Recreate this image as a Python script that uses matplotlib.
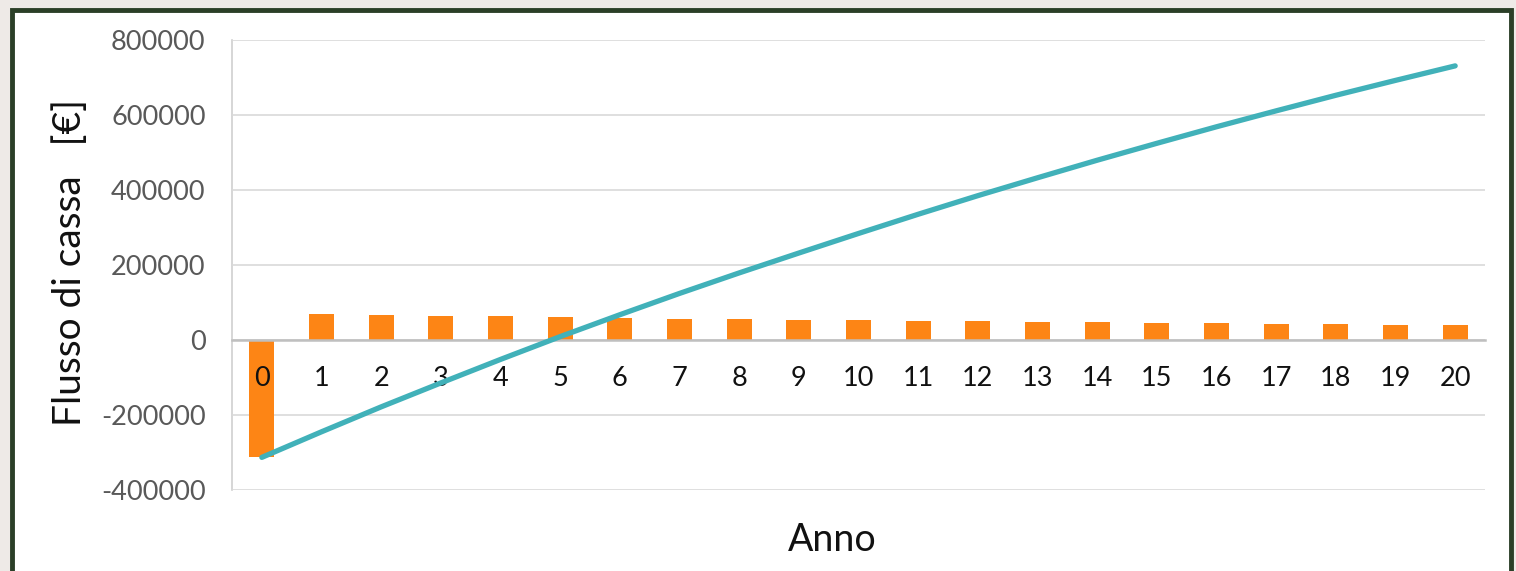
import matplotlib.pyplot as plt
from matplotlib.patches import Rectangle

plt.rcParams['font.family'] = ['Lato', 'DejaVu Sans']

# annual cash flow and cumulative cash flow
anni = list(range(21))
flusso = [-313000, 68500, 66700, 64000, 63000, 61000, 58700, 57000, 55000, 53300,
          52400, 51500, 49800, 48000, 47000, 45300, 44400, 42700, 41800, 40000, 39100]
cumulato = [-313000, -244800, -178300, -114500, -51800, 9000, 67400, 124200, 178900,
            231900, 284100, 335300, 384900, 432600, 479400, 524500, 568600, 611100,
            652600, 692300, 731000]
yticks = [-400000, -200000, 0, 200000, 400000, 600000, 800000]

fig = plt.figure(figsize=(15.16, 5.71), dpi=100)
fig.patch.set_facecolor('#EEEAE7')
# dark green frame around the chart
fig.patches.append(Rectangle((12/1516, -0.05), 1499/1516, 1.05 - 10/571,
                             transform=fig.transFigure, facecolor='white',
                             edgecolor='#2B3F27', linewidth=3.5, zorder=-1))

ax = fig.add_axes([232/1516, 1 - 490/571, 1253/1516, 450/571])
ax.set_facecolor('none')
ax.bar(anni, flusso, width=0.42, color='#FD8515', zorder=2)
ax.plot(anni, cumulato, color='#41B1B9', linewidth=3.8, solid_capstyle='round', zorder=3)

ax.set_xlim(-0.5, 20.5)
ax.set_ylim(-400000, 800000)
ax.set_yticks(yticks)
ax.set_yticklabels([str(v) for v in yticks])
ax.set_xticks(anni)
ax.set_xticklabels([str(a) for a in anni])
ax.grid(axis='y', color='#D9D9D9', linewidth=1.2)
ax.yaxis.set_zorder(1)
ax.xaxis.set_zorder(2.8)  # year labels sit on top of the bars

for s in ['top', 'right']:
    ax.spines[s].set_visible(False)
ax.spines['left'].set_color('#D0D0D0')
ax.spines['left'].set_linewidth(1.2)
ax.spines['left'].set_zorder(1)
ax.spines['bottom'].set_position(('data', 0))
ax.spines['bottom'].set_color('#BFBFBF')
ax.spines['bottom'].set_linewidth(1.8)
ax.spines['bottom'].set_zorder(2.5)

ax.tick_params(axis='y', length=0, pad=19, labelsize=19.5, labelcolor='#595959')
ax.tick_params(axis='x', length=0, pad=19, labelsize=19.5, labelcolor='#111111')

fig.text(832/1516, 1 - 540/571, 'Anno', fontsize=27, color='#111111',
         ha='center', va='center')
fig.text(70/1516, 1 - 262/571, 'Flusso di cassa   [€]', fontsize=28, color='#111111',
         ha='center', va='center', rotation=90)

plt.savefig('out.png', dpi=100, facecolor=fig.get_facecolor())
